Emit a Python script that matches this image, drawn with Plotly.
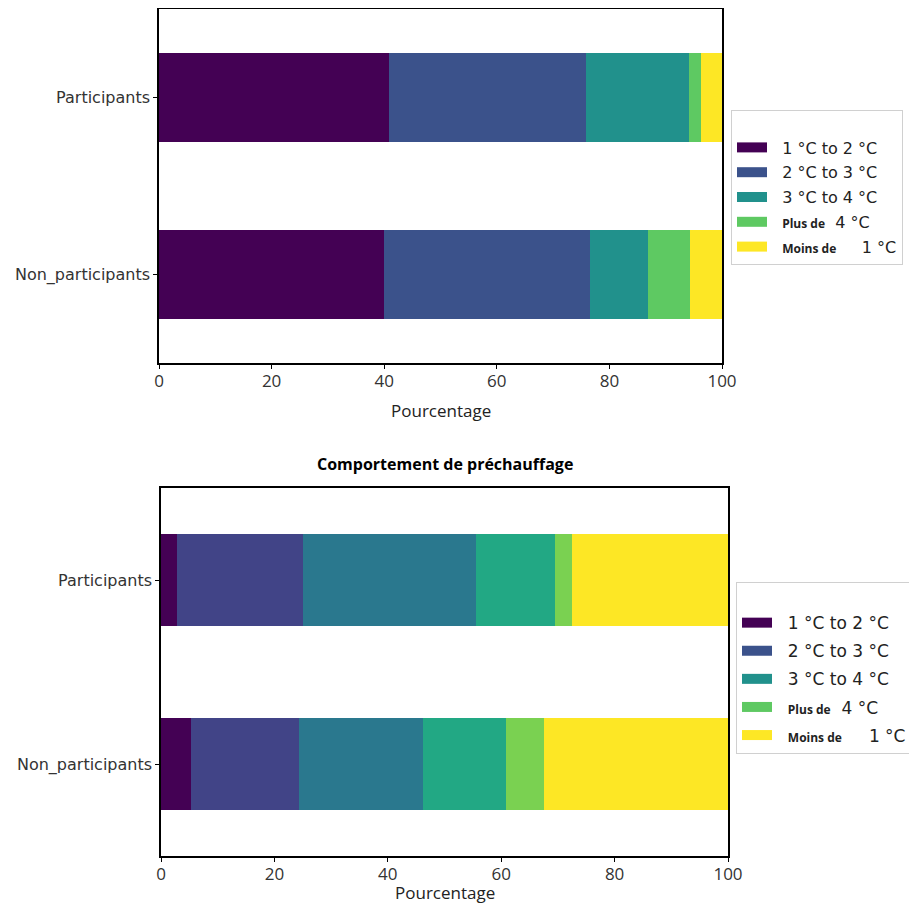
import plotly.graph_objects as go

groups = ["Participants", "Non_participants"]
legend_labels = [
    "1 °C to 2 °C",
    "2 °C to 3 °C",
    "3 °C to 4 °C",
    "<span style='font-family:Open Sans;font-size:12px;font-weight:bold'>Plus de</span>  4 °C",
    "<span style='font-family:Open Sans;font-size:12px;font-weight:bold'>Moins de</span>     1 °C",
]
top_names = ["1 °C to 2 °C", "2 °C to 3 °C", "3 °C to 4 °C", "Plus de 4 °C", "Moins de 1 °C"]
top_colors = ["#440154", "#3b528b", "#21918c", "#5ec962", "#fde725"]
# top chart: segment widths (%) for [Participants, Non_participants]
top_values = [
    [40.9, 39.9],
    [34.9, 36.6],
    [18.3, 10.4],
    [2.1, 7.5],
    [3.8, 5.6],
]

bottom_title = "Comportement de préchauffage"
bottom_names = ["Segment 1", "Segment 2", "Segment 3", "Segment 4", "Segment 5", "Segment 6"]
bottom_colors = ["#440154", "#414487", "#2a788e", "#22a884", "#7ad151", "#fde725"]
bottom_values = [
    [2.8, 5.3],
    [22.3, 19.0],
    [30.4, 21.9],
    [14.0, 14.7],
    [3.0, 6.7],
    [27.5, 32.4],
]

x_ticks = [0, 20, 40, 60, 80, 100]
x_title = "Pourcentage"

OFF = 8  # page body margin
W, H = 917 - OFF, 906 - OFF
fig = go.Figure()

for name, col, vals in zip(top_names, top_colors, top_values):
    fig.add_trace(go.Bar(y=groups, x=vals, name=name, orientation="h",
                         marker=dict(color=col, line=dict(width=0)), width=0.5,
                         xaxis="x", yaxis="y", showlegend=False))
for name, col, vals in zip(bottom_names, bottom_colors, bottom_values):
    fig.add_trace(go.Bar(y=groups, x=vals, name=name, orientation="h",
                         marker=dict(color=col, line=dict(width=0)), width=0.5,
                         xaxis="x2", yaxis="y2", showlegend=False))

# legend entries (legend-only swatches)
for i, (lab, col) in enumerate(zip(legend_labels, top_colors)):
    fig.add_trace(go.Scatter(x=[None], y=[None], mode="lines", name="  " + lab,
                             line=dict(color=col, width=11), legend="legend",
                             legendgroup="a%d" % i,
                             xaxis="x", yaxis="y", hoverinfo="skip"))
for i, (lab, col) in enumerate(zip(legend_labels, top_colors)):
    fig.add_trace(go.Scatter(x=[None], y=[None], mode="lines", name="  " + lab,
                             line=dict(color=col, width=13), legend="legend2",
                             legendgroup="b%d" % i,
                             xaxis="x2", yaxis="y2", hoverinfo="skip"))

def px_x(p):
    return min(1.0, max(0.0, (p - OFF) / W))

def px_y(p):
    return min(1.0, max(0.0, 1 - (p - OFF) / H))

ax_common = dict(showline=True, linecolor="black", linewidth=1.5, mirror=True,
                 ticks="outside", ticklen=4, tickcolor="black", showgrid=False,
                 zeroline=False, automargin=False)

xtickfont = dict(family="Open Sans", size=17, color="#333")
ytickfont = dict(family="DejaVu Sans", size=16, color="#333")

fig.update_layout(
    width=W, height=H,
    margin=dict(l=0, r=0, t=0, b=0),
    paper_bgcolor="white", plot_bgcolor="white",
    barmode="stack",
    font=dict(family="Open Sans", color="#262626"),
    xaxis=dict(domain=[px_x(159), px_x(722)], anchor="y", range=[0, 100],
               tickvals=x_ticks, tickfont=xtickfont, ticklabelstandoff=-2,
               **ax_common),
    yaxis=dict(domain=[px_y(363), px_y(9)], anchor="x", type="category",
               categoryorder="array", categoryarray=["Non_participants", "Participants"],
               range=[-0.5, 1.5], tickfont=ytickfont,
               **ax_common),
    xaxis2=dict(domain=[px_x(161), px_x(728)], anchor="y2", range=[0, 100],
                tickvals=x_ticks, tickfont=xtickfont, ticklabelstandoff=-2,
                **ax_common),
    yaxis2=dict(domain=[px_y(856), px_y(488)], anchor="x2", type="category",
                categoryorder="array", categoryarray=["Non_participants", "Participants"],
                range=[-0.5, 1.5], tickfont=ytickfont,
                **ax_common),
    legend=dict(x=px_x(731), y=px_y(110), xanchor="left", yanchor="top",
                bgcolor="white", bordercolor="#d0d0d0", borderwidth=1,
                font=dict(family="DejaVu Sans", size=16, color="#222"),
                title=dict(text=" ", font=dict(size=15)),
                itemwidth=30, traceorder="grouped", tracegroupgap=1),
    legend2=dict(x=px_x(736), y=px_y(582), xanchor="left", yanchor="top",
                 bgcolor="white", bordercolor="#d0d0d0", borderwidth=1,
                 font=dict(family="DejaVu Sans", size=17, color="#222"),
                 title=dict(text=" ", font=dict(size=17)),
                 itemwidth=30, traceorder="grouped", tracegroupgap=3),
    annotations=[
        dict(text="<b>" + bottom_title + "</b>", x=0.5, xref="x2 domain",
             y=px_y(464), yref="paper", yanchor="middle", showarrow=False,
             font=dict(family="Open Sans", size=16, color="black")),
        dict(text=x_title, x=0.5, xref="x domain", y=px_y(410), yref="paper",
             yanchor="middle", showarrow=False,
             font=dict(family="Open Sans", size=17, color="#222")),
        dict(text=x_title, x=0.5, xref="x2 domain", y=px_y(892), yref="paper",
             yanchor="middle", showarrow=False,
             font=dict(family="Open Sans", size=17, color="#222")),
    ],
)

fig.write_html("out.html")
